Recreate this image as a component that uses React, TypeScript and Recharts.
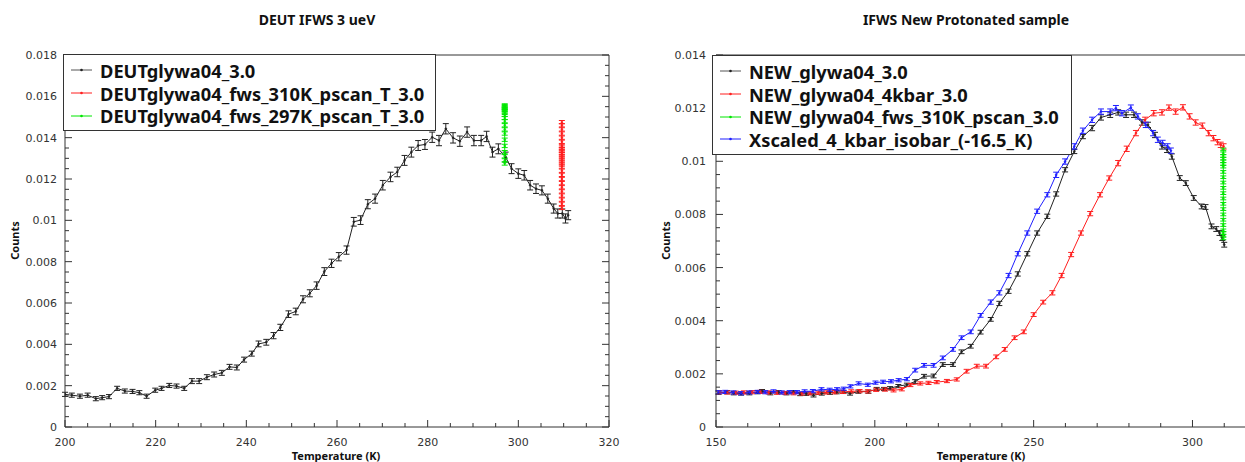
import React from 'react';
import { LineChart, Line, XAxis, YAxis, ErrorBar } from 'recharts';

const FONT = '"Noto Sans", "Open Sans", sans-serif';
const TICK_FONT = '"DejaVu Sans", sans-serif';

// ---------- left panel: DEUT IFWS 3 ueV ----------
const deutT = [
  200, 201.5, 203.3, 205, 206.8, 208.2, 209.7, 211.5, 213.2, 214.9, 216.4, 218, 219.9, 221.3, 223, 224.6,
  226.3, 228, 229.6, 231.3, 232.9, 234.6, 236.3, 237.9, 239.5, 241.2, 242.7, 244.4, 246, 247.5, 249.3,
  250.9, 252.5, 254, 255.5, 257.2, 258.8, 260.4, 262.1, 263.7, 265.2, 266.8, 268.4, 270.1, 271.8, 273.3,
  274.9, 276.4, 277.9, 279.4, 281, 282.5, 284, 285.6, 287.1, 288.7, 290.2, 291.8, 293, 294.3, 295.6, 297.2,
  298.5, 300, 301.3, 302.6, 303.9, 305.2, 306.5, 307.8, 308.7, 309.7, 310.4, 311,
];
const deutV = [
  0.00158, 0.00154, 0.00149, 0.00154, 0.00137, 0.00142, 0.00147, 0.00187, 0.00174, 0.00172, 0.00166,
  0.00149, 0.00178, 0.00187, 0.00201, 0.00198, 0.00187, 0.00222, 0.00222, 0.00241, 0.00254, 0.00262,
  0.00291, 0.00288, 0.00326, 0.00355, 0.00402, 0.0041, 0.00442, 0.00482, 0.00546, 0.00559, 0.00618,
  0.00647, 0.00684, 0.00752, 0.00792, 0.00824, 0.00856, 0.00993, 0.01001, 0.01078, 0.01105, 0.0117,
  0.0121, 0.01234, 0.0129, 0.0133, 0.01362, 0.01367, 0.01402, 0.01386, 0.01443, 0.01399, 0.01383,
  0.01427, 0.01386, 0.01386, 0.01406, 0.0133, 0.01346, 0.01306, 0.0125, 0.01226, 0.01218, 0.0117,
  0.01153, 0.01145, 0.01105, 0.01057, 0.01033, 0.01033, 0.01009, 0.01025,
];
const deutE = [
  0.0001, 0.0001, 0.0001, 0.0001, 0.0001, 0.0001, 0.0001, 0.0001, 0.0001, 0.0001, 0.0001, 0.0001, 0.0001,
  0.0001, 0.0001, 0.0001, 0.0001, 0.00012, 0.00012, 0.00012, 0.00012, 0.00012, 0.00012, 0.00012, 0.00012,
  0.00012, 0.00014, 0.00014, 0.00015, 0.00015, 0.00016, 0.00016, 0.00017, 0.00017, 0.00018, 0.00019,
  0.0002, 0.0002, 0.0002, 0.00021, 0.00021, 0.00022, 0.00022, 0.00023, 0.00023, 0.00023, 0.00024,
  0.00024, 0.00024, 0.00024, 0.00025, 0.00025, 0.00025, 0.00025, 0.00025, 0.00025, 0.00025, 0.00025,
  0.00025, 0.00024, 0.00024, 0.00024, 0.00024, 0.00023, 0.00023, 0.00023, 0.00023, 0.00022, 0.00022,
  0.00022, 0.00022, 0.00022, 0.00022, 0.00022,
];
const deut310Temp = 309.6;
const deut310V = [
  0.01475, 0.0146, 0.0144, 0.0142, 0.014, 0.0138, 0.0136, 0.01352, 0.01344, 0.01336, 0.01328, 0.0132,
  0.0131, 0.013, 0.0129, 0.0128, 0.0127, 0.0126, 0.0124, 0.0122, 0.012, 0.0118, 0.0116, 0.0114, 0.0112,
  0.011, 0.0108, 0.0106,
];
const deut297Temp = 297.0;
const deut297V = [
  0.01556, 0.01552, 0.01548, 0.01544, 0.0154, 0.01535, 0.01528, 0.0152, 0.0151, 0.01495, 0.0148, 0.0146,
  0.0144, 0.0142, 0.0139, 0.0136, 0.0133, 0.0131, 0.0129, 0.01275,
];
const scanErr = 0.00008;

// ---------- right panel: IFWS New Protonated sample ----------
const newT = [
  150.8, 153.5, 155.6, 157.9, 160.5, 163.1, 164.5, 167.1, 169.7, 172.2, 174.4, 176.5, 178.4, 180.7, 183.3,
  185.9, 188, 190.1, 192.2, 194.8, 198, 200.6, 202.9, 204.8, 207.4, 210.1, 212.7, 215.5, 218.5, 221.4,
  224.6, 227.3, 230.2, 233.3, 236.5, 239.2, 242.1, 245, 248, 251.1, 254.3, 257.1, 259.9, 262.8, 265.5,
  268.4, 271.2, 274.1, 276.6, 279.1, 281.6, 284.1, 286, 288.2, 290.4, 292, 293.5, 296, 297.9, 300.4,
  302.9, 304.1, 306, 307.5, 308.5, 309.4, 310,
];
const newV = [
  0.00129, 0.00131, 0.00127, 0.00126, 0.00127, 0.00131, 0.00135, 0.00127, 0.00131, 0.00127, 0.00131,
  0.00124, 0.00125, 0.00119, 0.00126, 0.00129, 0.00131, 0.00132, 0.00126, 0.00133, 0.00133, 0.00143,
  0.00143, 0.00146, 0.00154, 0.00159, 0.00171, 0.00191, 0.00192, 0.00235, 0.00235, 0.00283, 0.00304,
  0.00357, 0.00405, 0.00465, 0.00511, 0.00576, 0.00652, 0.0073, 0.00793, 0.00877, 0.00968, 0.01037,
  0.01093, 0.01125, 0.01165, 0.01175, 0.01184, 0.01175, 0.01175, 0.01146, 0.01137, 0.01099, 0.01056,
  0.01043, 0.01018, 0.00937, 0.00918, 0.00862, 0.0083, 0.00828, 0.00755, 0.00745, 0.0073, 0.00711, 0.00686,
];
const newE = [
  0.00006, 0.00006, 0.00006, 0.00006, 0.00006, 0.00006, 0.00006, 0.00006, 0.00006, 0.00006, 0.00006,
  0.00006, 0.00006, 0.00006, 0.00006, 0.00006, 0.00006, 0.00006, 0.00006, 0.00006, 0.00006, 0.00006,
  0.00006, 0.00006, 0.00006, 0.00006, 0.00007, 0.00007, 0.00007, 0.00007, 0.00007, 0.00007, 0.00007,
  0.00007, 0.00007, 0.00008, 0.00008, 0.00008, 0.00008, 0.00008, 0.00008, 0.00008, 0.00008, 0.00008,
  0.00008, 0.0001, 0.0001, 0.0001, 0.0001, 0.0001, 0.0001, 0.0001, 0.0001, 0.0001, 0.0001, 0.0001,
  0.0001, 0.00009, 0.00009, 0.00009, 0.00009, 0.00009, 0.00009, 0.00009, 0.00009, 0.00009, 0.00009,
];
const kbarT = [
  151, 153.6, 156.2, 158.8, 161.4, 164, 166.6, 169.2, 171.8, 174.4, 177, 179.6, 182.2, 184.8, 187.4, 190,
  192.6, 195.2, 197.8, 200.4, 203.2, 205.9, 208.5, 211.2, 214.3, 216.9, 219.5, 222.7, 225.8, 228.9, 232.1,
  235, 238.2, 240.9, 244, 246.9, 250, 253, 255.9, 258.8, 261.8, 264.9, 267.8, 270.9, 273.8, 276.6, 279.3,
  282.2, 285.1, 287.8, 290.4, 292.6, 294.7, 297, 299.1, 301, 303.1, 305.1, 306.6, 307.9, 308.9, 309.8,
];
const kbarV = [
  0.00131, 0.0013, 0.00129, 0.0013, 0.00131, 0.00132, 0.0013, 0.00129, 0.00128, 0.00127, 0.00126, 0.00127,
  0.00129, 0.0013, 0.00131, 0.00132, 0.00134, 0.00135, 0.00134, 0.0014, 0.00141, 0.00138, 0.00142,
  0.00158, 0.00164, 0.00166, 0.00169, 0.00173, 0.00179, 0.0021, 0.00229, 0.00229, 0.00264, 0.00292,
  0.00336, 0.00358, 0.00423, 0.0047, 0.00505, 0.0057, 0.00649, 0.0073, 0.00803, 0.00874, 0.00937,
  0.00993, 0.01047, 0.01106, 0.01156, 0.01181, 0.01184, 0.01202, 0.01187, 0.01203, 0.01169, 0.01146,
  0.01134, 0.01106, 0.01087, 0.01072, 0.01062, 0.01056,
];
const kbarE = [
  0.00006, 0.00006, 0.00006, 0.00006, 0.00006, 0.00006, 0.00006, 0.00006, 0.00006, 0.00006, 0.00006,
  0.00006, 0.00006, 0.00006, 0.00006, 0.00006, 0.00006, 0.00006, 0.00006, 0.00006, 0.00006, 0.00006,
  0.00006, 0.00006, 0.00006, 0.00006, 0.00006, 0.00006, 0.00006, 0.00007, 0.00007, 0.00007, 0.00007,
  0.00007, 0.00007, 0.00007, 0.00007, 0.00007, 0.00008, 0.00008, 0.00008, 0.00008, 0.00008, 0.00008,
  0.00008, 0.0001, 0.0001, 0.0001, 0.0001, 0.0001, 0.0001, 0.0001, 0.0001, 0.0001, 0.0001, 0.0001,
  0.0001, 0.0001, 0.0001, 0.0001, 0.0001, 0.0001,
];
const pscanTemp = 309.7;
const pscanV = [
  0.01045, 0.0103, 0.0102, 0.0101, 0.01, 0.0099, 0.0098, 0.0096, 0.0094, 0.0092, 0.009, 0.0088, 0.0086,
  0.0084, 0.0082, 0.008, 0.0078, 0.0076, 0.0074, 0.0073, 0.0072, 0.0071,
];
const pscanErr = 0.00005;
const xsT = [
  150.8, 152.9, 155.5, 157.9, 160.5, 163.1, 165.5, 168.1, 170.7, 173.2, 175.5, 177.9, 180.5, 183.2, 185.8,
  188.1, 190.2, 192.3, 194.9, 197.8, 200.2, 202.6, 205.1, 207.5, 210.1, 212.7, 215.5, 218.5, 221.4, 224.6,
  227.3, 230.2, 233.3, 236.5, 239.2, 242.1, 245, 248, 251.1, 254.3, 257.1, 259.9, 262.8, 265.5, 268.4,
  271.2, 274.1, 275.9, 277.8, 280.6, 282.8, 285.3, 287.6, 289.1, 290.6, 292.2, 293.2,
];
const xsV = [
  0.00131, 0.00132, 0.0013, 0.00127, 0.0013, 0.00132, 0.00131, 0.00134, 0.0013, 0.00131, 0.00131, 0.00134,
  0.00135, 0.00142, 0.0014, 0.00142, 0.00144, 0.00153, 0.00164, 0.00159, 0.00167, 0.0017, 0.00172,
  0.00176, 0.0018, 0.00214, 0.00232, 0.00232, 0.0026, 0.00292, 0.00336, 0.00358, 0.0042, 0.0047, 0.00505,
  0.0057, 0.00652, 0.0073, 0.00812, 0.00874, 0.00949, 0.00999, 0.01056, 0.01115, 0.01156, 0.01187,
  0.01187, 0.012, 0.01181, 0.01202, 0.01169, 0.01137, 0.01106, 0.01081, 0.01069, 0.01056, 0.0104,
];
const xsE = [
  0.00006, 0.00006, 0.00006, 0.00006, 0.00006, 0.00006, 0.00006, 0.00006, 0.00006, 0.00006, 0.00006,
  0.00006, 0.00006, 0.00006, 0.00006, 0.00006, 0.00006, 0.00006, 0.00006, 0.00006, 0.00006, 0.00006,
  0.00006, 0.00006, 0.00006, 0.00007, 0.00007, 0.00007, 0.00007, 0.00007, 0.00007, 0.00007, 0.00007,
  0.00008, 0.00008, 0.00008, 0.00008, 0.00008, 0.00008, 0.00008, 0.0001, 0.0001, 0.0001, 0.0001, 0.0001,
  0.0001, 0.0001, 0.0001, 0.0001, 0.0001, 0.0001, 0.0001, 0.0001, 0.0001, 0.0001, 0.0001, 0.0001,
];

// tick labels
const leftXLabels = [200, 220, 240, 260, 280, 300, 320];
const leftYLabels = [0, 0.002, 0.004, 0.006, 0.008, 0.01, 0.012, 0.014, 0.016, 0.018];
const rightXLabels = [150, 200, 250, 300];
const rightXMajorTicks = [150, 200, 250, 300, 350];
const rightYLabels = [0, 0.002, 0.004, 0.006, 0.008, 0.01, 0.012, 0.014];

const BLACK = '#222';
const RED = '#ff1f1f';
const GREEN = '#00e600';
const BLUE = '#1f1fff';
const AXIS = '#333';

const pts = (t: number[], v: number[], e: number[]) => t.map((x, i) => ({ t: x, v: v[i], e: e[i] }));
const scan = (temp: number, v: number[], err: number) => v.map((y) => ({ t: temp, v: y, e: err }));

const subdivide = (majors: number[], n: number) => {
  const out: number[] = [];
  for (let i = 0; i < majors.length - 1; i++) {
    const a = majors[i];
    const b = majors[i + 1];
    for (let k = 0; k < n; k++) out.push(+(a + ((b - a) * k) / n).toFixed(6));
  }
  out.push(majors[majors.length - 1]);
  return out;
};

const fmt = (v: number) => String(+v.toFixed(4));

type Side = 'bottom' | 'top' | 'left' | 'right';

function tickFn(side: Side, labels: number[], gap = 8) {
  const isMajor = (v: number) => labels.some((m) => Math.abs(m - v) < 1e-9);
  return (props: any) => {
    const { x, y, payload } = props;
    const v = payload.value as number;
    const major = isMajor(v);
    const len = major ? 7 : 4;
    const ts = { fontSize: 11, fill: '#333', fontFamily: TICK_FONT };
    if (side === 'bottom')
      return (
        <g>
          <line x1={x} y1={y} x2={x} y2={y - len} stroke={AXIS} />
          {major && (
            <text x={x} y={y + 19} textAnchor="middle" style={ts}>
              {fmt(v)}
            </text>
          )}
        </g>
      );
    if (side === 'top') return <line x1={x} y1={y} x2={x} y2={y + len} stroke={AXIS} />;
    if (side === 'left')
      return (
        <g>
          <line x1={x} y1={y} x2={x + len} y2={y} stroke={AXIS} />
          {major && (
            <text x={x - gap} y={y + 4} textAnchor="end" style={ts}>
              {fmt(v)}
            </text>
          )}
        </g>
      );
    return <line x1={x} y1={y} x2={x - len} y2={y} stroke={AXIS} />;
  };
}

type Item = { name: string; color: string };

const LegendBox = ({ left, top, width, items }: { left: number; top: number; width: number; items: Item[] }) => (
  <div
    style={{
      position: 'absolute',
      left,
      top,
      width,
      boxSizing: 'border-box',
      border: '1px solid #333',
      background: '#fff',
      padding: '4px 0 3px 0',
    }}
  >
    {items.map((it) => (
      <div key={it.name} style={{ display: 'flex', alignItems: 'center', height: 22.7 }}>
        <svg width={21} height={8} style={{ marginLeft: 7, marginRight: 8, flex: 'none' }}>
          <line x1={0} y1={4} x2={21} y2={4} stroke={it.color === BLACK ? '#555' : it.color} strokeWidth={1} />
          <circle cx={10.5} cy={4} r={1.3} fill={it.color} />
        </svg>
        <span style={{ fontSize: 18.3, fontWeight: 700, color: '#111', whiteSpace: 'nowrap' }}>{it.name}</span>
      </div>
    ))}
  </div>
);

function line(key: string, data: { t: number; v: number; e: number }[], color: string) {
  return (
    <Line
      key={key}
      data={data}
      dataKey="v"
      type="linear"
      stroke={color}
      strokeWidth={1}
      dot={{ r: 1, fill: color, stroke: color, strokeWidth: 0.5 }}
      activeDot={false}
      isAnimationActive={false}
    >
      <ErrorBar dataKey="e" width={3} stroke={color} strokeWidth={1} direction="y" isAnimationActive={false} />
    </Line>
  );
}

const title = { position: 'absolute' as const, fontSize: 14, fontWeight: 700, color: '#111', lineHeight: '17px', width: 300, textAlign: 'center' as const };
const axisTitle = { position: 'absolute' as const, fontSize: 11, fontWeight: 700, color: '#111', lineHeight: '13px', width: 160, textAlign: 'center' as const };

// axis boxes are 1px thick, so margins are one pixel smaller than plot offsets
const axisCommon = { allowDataOverflow: true, interval: 0 as const, tickSize: 0, tickMargin: 0, tickLine: false, axisLine: { stroke: AXIS } };

export default function App() {
  const lx = subdivide(leftXLabels, 4);
  const ly = subdivide(leftYLabels, 4);
  const rx = subdivide(rightXMajorTicks, 5).filter((v) => v <= 320);
  const ry = subdivide(rightYLabels, 4);

  return (
    <div style={{ position: 'absolute', left: 0, top: 0, width: 1245, height: 462, overflow: 'hidden', background: '#fff', fontFamily: FONT }}>
      <div style={{ position: 'absolute', left: 0, top: 0 }}>
        <LineChart width={620} height={462} margin={{ top: 54, right: 10, bottom: 34, left: 64 }}>
          <XAxis type="number" dataKey="t" domain={[200, 320]} ticks={lx} height={1} {...axisCommon} tick={tickFn('bottom', leftXLabels)} />
          <XAxis xAxisId="top" orientation="top" type="number" domain={[200, 320]} ticks={lx} height={1} {...axisCommon} tick={tickFn('top', leftXLabels)} />
          <YAxis type="number" domain={[0, 0.018]} ticks={ly} width={1} {...axisCommon} tick={tickFn('left', leftYLabels, 8)} />
          <YAxis yAxisId="r" orientation="right" type="number" domain={[0, 0.018]} ticks={ly} width={1} {...axisCommon} tick={tickFn('right', leftYLabels)} />
          {line('deut', pts(deutT, deutV, deutE), BLACK)}
          {line('deut310', scan(deut310Temp, deut310V, scanErr), RED)}
          {line('deut297', scan(deut297Temp, deut297V, scanErr), GREEN)}
        </LineChart>
      </div>

      <div style={{ position: 'absolute', left: 620, top: 0 }}>
        <LineChart width={660} height={462} margin={{ top: 54, right: 23, bottom: 34, left: 95 }}>
          <XAxis type="number" dataKey="t" domain={[150, 320]} ticks={rx} height={1} {...axisCommon} tick={tickFn('bottom', rightXLabels)} />
          <XAxis xAxisId="top" orientation="top" type="number" domain={[150, 320]} ticks={rx} height={1} {...axisCommon} tick={tickFn('top', rightXLabels)} />
          <YAxis type="number" domain={[0, 0.014]} ticks={ry} width={1} {...axisCommon} tick={tickFn('left', rightYLabels, 10)} />
          <YAxis yAxisId="r" orientation="right" type="number" domain={[0, 0.014]} ticks={ry} width={1} {...axisCommon} tick={tickFn('right', rightYLabels)} />
          {line('new', pts(newT, newV, newE), BLACK)}
          {line('kbar', pts(kbarT, kbarV, kbarE), RED)}
          {line('pscan', scan(pscanTemp, pscanV, pscanErr), GREEN)}
          {line('xs', pts(xsT, xsV, xsE), BLUE)}
        </LineChart>
      </div>

      <div style={{ ...title, left: 317 - 150, top: 11 }}>DEUT IFWS 3 ueV</div>
      <div style={{ ...title, left: 966 - 150, top: 11 }}>IFWS New Protonated sample</div>
      <div style={{ ...axisTitle, left: 336 - 80, top: 449 }}>Temperature (K)</div>
      <div style={{ ...axisTitle, left: 981 - 80, top: 449 }}>Temperature (K)</div>
      <div style={{ ...axisTitle, left: 14 - 80, top: 234, transform: 'rotate(-90deg)' }}>Counts</div>
      <div style={{ ...axisTitle, left: 665 - 80, top: 234, transform: 'rotate(-90deg)' }}>Counts</div>

      <LegendBox
        left={63}
        top={54}
        width={373}
        items={[
          { name: 'DEUTglywa04_3.0', color: BLACK },
          { name: 'DEUTglywa04_fws_310K_pscan_T_3.0', color: RED },
          { name: 'DEUTglywa04_fws_297K_pscan_T_3.0', color: GREEN },
        ]}
      />
      <LegendBox
        left={712}
        top={55}
        width={360}
        items={[
          { name: 'NEW_glywa04_3.0', color: BLACK },
          { name: 'NEW_glywa04_4kbar_3.0', color: RED },
          { name: 'NEW_glywa04_fws_310K_pscan_3.0', color: GREEN },
          { name: 'Xscaled_4_kbar_isobar_(-16.5_K)', color: BLUE },
        ]}
      />
    </div>
  );
}
